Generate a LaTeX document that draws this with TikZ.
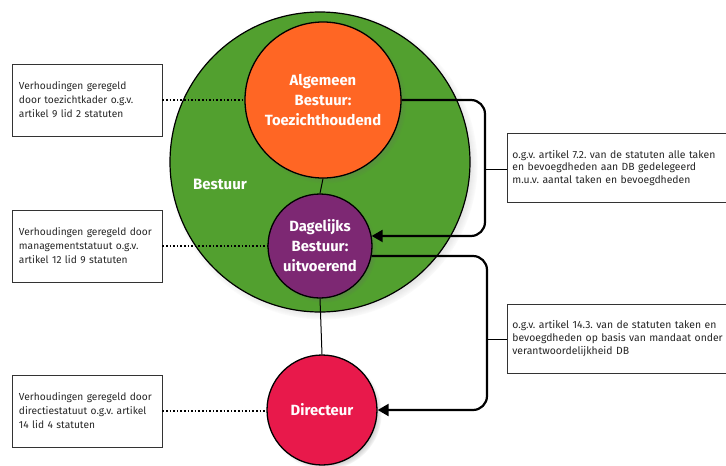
\documentclass[tikz,border=0pt]{standalone}
\usepackage{fontspec}
\setmainfont{Fira Sans}
\usetikzlibrary{arrows.meta,shadows}
\definecolor{bgreen}{RGB}{82,160,47}
\definecolor{borange}{RGB}{255,102,36}
\definecolor{bpurple}{RGB}{125,40,115}
\definecolor{bred}{RGB}{232,25,75}
\frenchspacing
\begin{document}
\begin{tikzpicture}[x=1pt,y=-1pt,
  shad/.style={circular drop shadow={shadow xshift=3pt,shadow yshift=-3pt,shadow scale=1.03,fill=black!60,opacity=0.45}},
  circ/.style={circle,draw=black,line width=1.3pt,inner sep=0pt,text=white,
    font=\bfseries\fontsize{14.8}{20}\selectfont,align=center,shad},
  leftbox/.style={draw=black!80,line width=0.8pt,minimum width=150pt,minimum height=72pt,
    text width=136pt,inner xsep=7pt,align=left,font=\fontsize{10.2}{14}\selectfont,text=black!85},
  rightbox/.style={draw=black!80,line width=0.8pt,minimum width=260pt,minimum height=69pt,
    text width=250pt,inner xsep=5pt,align=left,font=\fontsize{10.4}{12.8}\selectfont,text=black!85,anchor=west},
  bracket/.style={line width=2.2pt,rounded corners=14pt,-{Triangle[length=11pt,width=12pt]}},
  dotline/.style={dotted,line width=1.6pt},
  thin line/.style={line width=1pt},
]
\useasboundingbox (0,0) rectangle (726,466);
\clip (0,0) rectangle (726,466);
\fill[white] (0,0) rectangle (726,466);

\node[circle,draw=black,line width=1.2pt,fill=bgreen,minimum size=300pt,shad] (bestuur) at (320,162) {};
\node[text=white,font=\bfseries\fontsize{15}{18}\selectfont] (bestuurlabel) at (220,184) {Bestuur};

\coordinate (k1) at (485,100);
\coordinate (k2) at (485,236);
\coordinate (k3) at (487,256);
\coordinate (k4) at (487,410);
\coordinate (s1) at (485,169);
\coordinate (s2) at (487,339);

\node[circ,minimum size=156pt,fill=borange] (ab) at (323,100) {Algemeen\\Bestuur:\\Toezichthoudend};
\node[circ,minimum size=104pt,fill=bpurple] (db) at (320,246) {Dagelijks\\Bestuur:\\uitvoerend};
\node[circ,minimum size=110pt,fill=bred] (dir) at (322,410) {Directeur};

\draw[thin line] (ab.south) -- (db.north);
\draw[thin line] (db.south) -- (dir.north);

\draw[bracket] (ab.east) -- (k1) -- (k2) -- (db.11);
\draw[bracket] (db.-11) -- (k3) -- (k4) -- (dir.east);

\node[rightbox] (r1) at (507,168) {o.g.v. artikel 7.2. van de statuten alle taken\\en bevoegdheden aan DB gedelegeerd\\m.u.v. aantal taken en bevoegdheden};
\node[rightbox] (r2) at (507,338.5) {o.g.v. artikel 14.3. van de statuten taken en\\bevoegdheden op basis van mandaat onder\\verantwoordelijkheid DB};
\draw[thin line] (s1) -- (r1.west |- s1);
\draw[thin line] (s2) -- (r2.west |- s2);

\node[leftbox] (l1) at (87,100) {Verhoudingen geregeld\\door toezichtkader o.g.v.\\artikel 9 lid 2 statuten};
\node[leftbox] (l2) at (87,246) {Verhoudingen geregeld door\\managementstatuut o.g.v.\\artikel 12 lid 9 statuten};
\node[leftbox] (l3) at (87,411) {Verhoudingen geregeld door\\directiestatuut o.g.v. artikel\\14 lid 4 statuten};

\draw[dotline] (l1.east) -- (ab.west);
\draw[dotline] (l2.east) -- (db.west);
\draw[dotline] (l3.east) -- (dir.west |- l3.east);
\end{tikzpicture}
\end{document}
